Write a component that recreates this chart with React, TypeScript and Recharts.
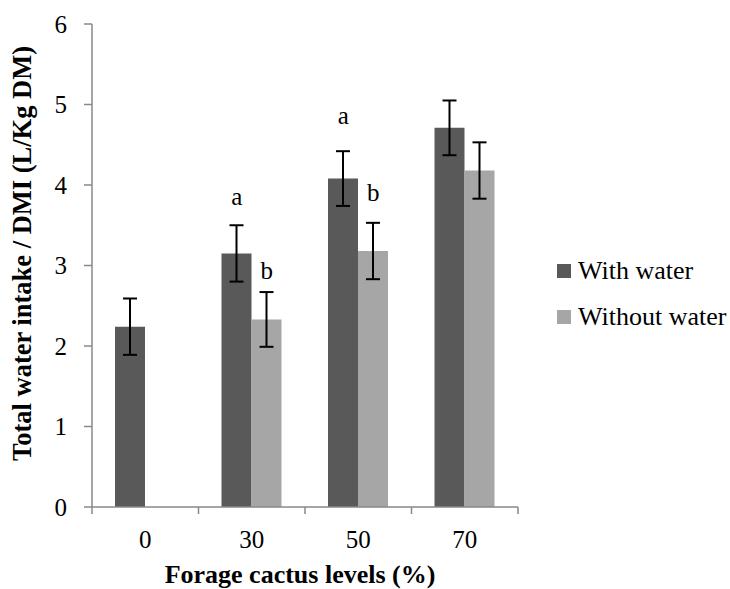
import React from 'react';
import { BarChart, Bar, XAxis, YAxis, ErrorBar, Legend, ReferenceDot } from 'recharts';

const categories = ['0', '30', '50', '70'];
const withWater = [2.24, 3.15, 4.08, 4.71];
const withWaterErr = [0.35, 0.35, 0.34, 0.34];
const withoutWater = [null, 2.33, 3.18, 4.18];
const withoutWaterErr = [null, 0.34, 0.35, 0.35];
const yTicks = [0, 1, 2, 3, 4, 5, 6];

const letterCats = ['30', '30', '50', '50'];
const letterSeries = ['with', 'without', 'with', 'without'];
const letterText = ['a', 'b', 'a', 'b'];
const letterValues = [3.84, 2.92, 4.85, 3.9];

const seriesNames = ['With water', 'Without water'];
const colors = ['#595959', '#a6a6a6'];

const data = categories.map((c, i) => ({
  cat: c,
  withWater: withWater[i],
  withWaterErr: withWaterErr[i],
  withoutWater: withoutWater[i],
  withoutWaterErr: withoutWaterErr[i],
}));

const FONT = "'Liberation Serif', 'Times New Roman', serif";
const W = 730;
const H = 589;
const M = { top: 24, right: 212, left: 0, bottom: 0 };
const Y_W = 92;
const X_H = 82;
const PLOT_W = W - M.left - M.right - Y_W;
const BAND = PLOT_W / categories.length;
const X_TICK_SIZE = 8;
const X_TICK_MARGIN = 15;
const AXIS_COLOR = '#888888';
const BAR_SIZE = 30;

const XTick = (props: any) => {
  const { x, y, payload, index } = props;
  const axisY = y - X_TICK_SIZE - X_TICK_MARGIN;
  const left = x - BAND / 2;
  const right = x + BAND / 2;
  return (
    <g>
      <line x1={left} y1={axisY} x2={left} y2={axisY + 7} stroke={AXIS_COLOR} strokeWidth={1.5} />
      {index === categories.length - 1 && (
        <line x1={right} y1={axisY} x2={right} y2={axisY + 7} stroke={AXIS_COLOR} strokeWidth={1.5} />
      )}
      <text x={x} y={y} dy="0.71em" textAnchor="middle" fontFamily={FONT} fontSize={25} fill="#000">
        {payload.value}
      </text>
    </g>
  );
};

const renderLegend = () => (
  <div style={{ fontFamily: FONT, fontSize: 26, color: '#000' }}>
    {seriesNames.map((n, i) => (
      <div key={n} style={{ height: 46, display: 'flex', alignItems: 'center', whiteSpace: 'nowrap' }}>
        <span style={{ width: 14, height: 14, background: colors[i], display: 'inline-block', marginRight: 7 }} />
        <span>{n}</span>
      </div>
    ))}
  </div>
);

const yTitle = 'Total water intake / DMI (L/Kg DM)';
const xTitle = 'Forage cactus levels (%)';

export default function App() {
  return (
    <div style={{ position: 'absolute', left: 0, top: 0, width: W, height: H, background: '#fff' }}>
      <BarChart width={W} height={H} data={data} margin={M} barGap={0} barSize={BAR_SIZE}>
        <XAxis
          dataKey="cat"
          height={X_H}
          stroke={AXIS_COLOR}
          axisLine={{ stroke: AXIS_COLOR, strokeWidth: 1.5 }}
          tickLine={false}
          tickSize={X_TICK_SIZE}
          tickMargin={X_TICK_MARGIN}
          tick={<XTick />}
          interval={0}
          label={{
            content: (p: any) => {
              const vb = p.viewBox;
              return (
                <text
                  x={vb.x + vb.width / 2 - 5}
                  y={vb.y + vb.height - 6}
                  textAnchor="middle"
                  fontFamily={FONT}
                  fontSize={26}
                  fontWeight="bold"
                  fill="#000"
                >
                  {xTitle}
                </text>
              );
            },
          }}
        />
        <YAxis
          width={Y_W}
          domain={[0, 6]}
          ticks={yTicks}
          interval={0}
          axisLine={{ stroke: AXIS_COLOR, strokeWidth: 1.5 }}
          tickLine={{ stroke: AXIS_COLOR, strokeWidth: 1.5 }}
          tickSize={8}
          tickMargin={17}
          tick={{ fontFamily: FONT, fontSize: 25, fill: '#000' }}
          label={{
            content: (p: any) => {
              const vb = p.viewBox;
              const cx = vb.x + 22;
              const cy = vb.y + vb.height / 2 - 12;
              return (
                <text
                  transform={`translate(${cx},${cy}) rotate(-90)`}
                  textAnchor="middle"
                  dy="0.355em"
                  fontFamily={FONT}
                  fontSize={26.5}
                  fontWeight="bold"
                  fill="#000"
                >
                  {yTitle}
                </text>
              );
            },
          }}
        />
        <Legend
          layout="vertical"
          align="center"
          verticalAlign="middle"
          wrapperStyle={{ left: 557, top: 248, width: 172 }}
          content={renderLegend}
        />
        <Bar dataKey="withWater" name={seriesNames[0]} fill={colors[0]} isAnimationActive={false}>
          <ErrorBar dataKey="withWaterErr" width={7} stroke="#000" strokeWidth={2} direction="y" />
        </Bar>
        <Bar dataKey="withoutWater" name={seriesNames[1]} fill={colors[1]} isAnimationActive={false}>
          <ErrorBar dataKey="withoutWaterErr" width={7} stroke="#000" strokeWidth={2} direction="y" />
        </Bar>
        {letterText.map((t, i) => (
          <ReferenceDot
            key={i}
            x={letterCats[i]}
            y={letterValues[i]}
            r={0}
            ifOverflow="visible"
            shape={(p: any) => (
              <text
                x={p.cx + (letterSeries[i] === 'with' ? -BAR_SIZE / 2 : BAR_SIZE / 2)}
                y={p.cy}
                dy="0.3em"
                textAnchor="middle"
                fontFamily={FONT}
                fontSize={25}
                fill="#000"
              >
                {t}
              </text>
            )}
          />
        ))}
      </BarChart>
    </div>
  );
}
